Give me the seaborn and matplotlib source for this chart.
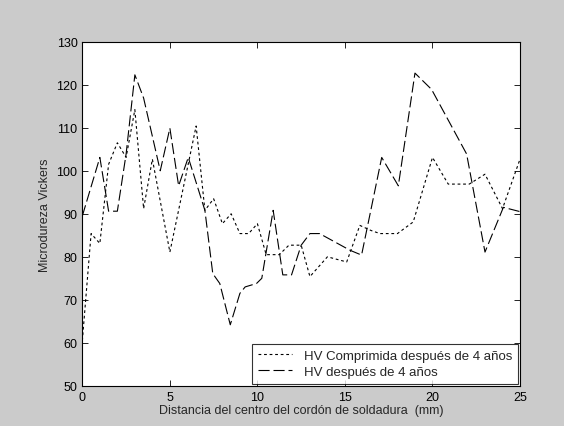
import pandas as pd
import matplotlib
matplotlib.use("Agg")
import matplotlib.pyplot as plt
import seaborn as sns

# Data
dist_comp = [0, 0.5, 1.0, 1.5, 2.0, 2.5, 3.0, 3.5, 4.0, 5.0, 6.5, 7.0, 7.5, 8.0,
             8.5, 9.0, 9.5, 10.0, 10.5, 11.25, 11.8, 12.5, 13.0, 14.0, 15.1,
             15.85, 16.5, 17.0, 18.0, 18.9, 20.0, 20.9, 22.1, 23.0, 24.0, 25.0]
hv_comp = [60.5, 85.4, 83.1, 101.5, 106.5, 103.1, 114.2, 91.2, 102.7, 81.1,
           110.4, 90.8, 93.5, 87.7, 90.0, 85.4, 85.4, 87.7, 80.5, 80.5, 82.7,
           82.7, 75.4, 80.0, 78.8, 87.3, 86.1, 85.4, 85.4, 88.1, 103.1, 96.9,
           96.9, 99.2, 91.2, 102.7]

dist_hv = [0, 1.0, 1.5, 2.0, 2.5, 3.0, 3.5, 4.45, 5.0, 5.5, 6.05, 7.0, 7.45,
           7.85, 8.45, 9.0, 9.3, 9.95, 10.25, 10.9, 11.45, 11.95, 12.5, 13.0,
           13.55, 15.3, 15.95, 17.1, 18.05, 19.0, 19.95, 21.95, 23.0, 24.05, 25.0]
hv_4 = [89.5, 103.1, 90.6, 90.6, 103.9, 122.3, 116.9, 100.0, 109.9, 96.5,
        103.1, 90.8, 76.1, 73.8, 64.2, 71.5, 73.0, 73.8, 75.0, 90.8, 75.8,
        75.8, 82.7, 85.4, 85.4, 81.5, 80.4, 103.1, 96.5, 122.7, 118.9, 103.9,
        81.1, 91.5, 90.5]

df_comp = pd.DataFrame({"dist": dist_comp, "hv": hv_comp})
df_hv = pd.DataFrame({"dist": dist_hv, "hv": hv_4})

sns.set_style("ticks")
plt.rcParams["font.family"] = ["Liberation Sans", "DejaVu Sans"]

fig = plt.figure(figsize=(5.64, 4.27), dpi=100, facecolor="#cbcbcb")
ax = fig.add_axes([0.146, 0.094, 0.776, 0.806])
ax.set_facecolor("white")

sns.lineplot(data=df_comp, x="dist", y="hv", ax=ax, color="black",
             linewidth=0.8, linestyle=(0, (2.5, 2.5)),
             label="HV Comprimida después de 4 años")
sns.lineplot(data=df_hv, x="dist", y="hv", ax=ax, color="black",
             linewidth=0.8, linestyle=(0, (10, 3.5)),
             label="HV después de 4 años")

ax.set_xlim(0, 25)
ax.set_ylim(50, 130)
ax.set_xticks(range(0, 26, 5))
ax.set_yticks(range(50, 131, 10))
ax.tick_params(direction="in", top=True, right=True, labelsize=9,
               length=4, width=0.6, colors="black")
for s in ax.spines.values():
    s.set_visible(True)
    s.set_linewidth(0.8)
    s.set_color("black")

ax.set_xlabel("Distancia del centro del cordón de soldadura  (mm)", fontsize=9, labelpad=1)
ax.set_ylabel("Microdureza Vickers", fontsize=9, labelpad=4)

leg = ax.legend(loc="lower right", fontsize=9.5, frameon=True, fancybox=False,
                borderaxespad=0.15, handlelength=2.6, handletextpad=0.9,
                borderpad=0.45, labelspacing=0.3)
leg.get_frame().set_edgecolor("black")
leg.get_frame().set_linewidth(0.8)

fig.savefig("out.png", dpi=100, facecolor=fig.get_facecolor())
